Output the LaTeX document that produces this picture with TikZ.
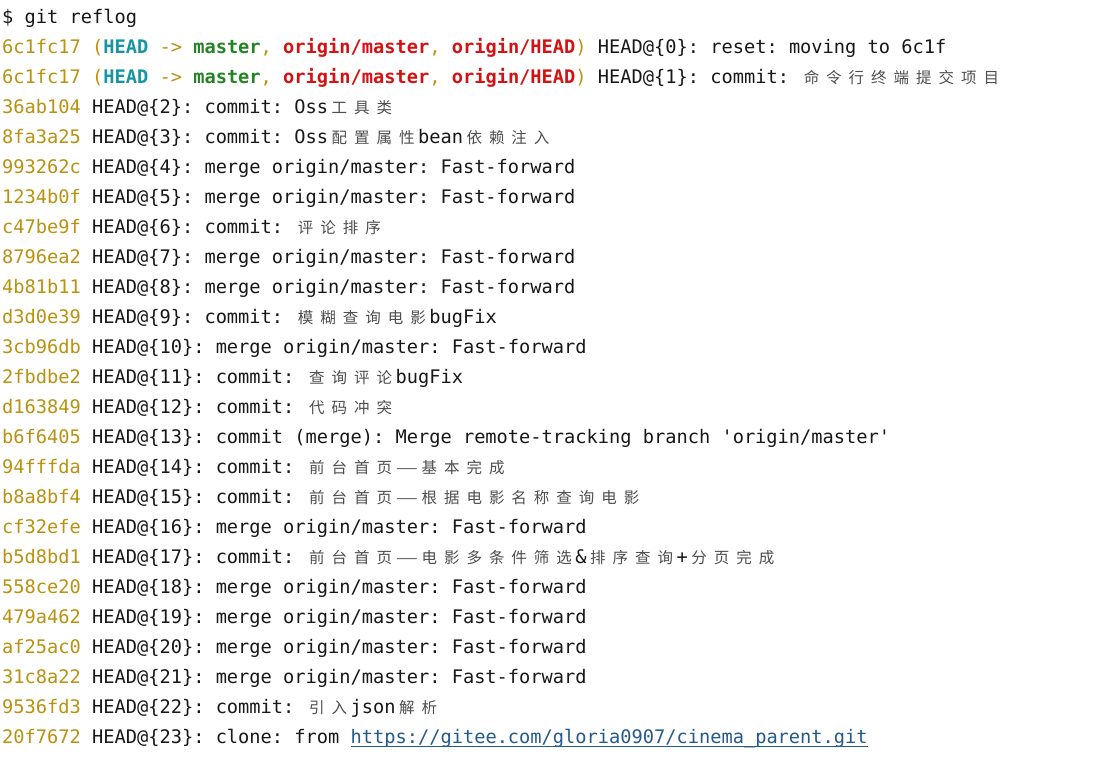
\documentclass[tikz,border=0pt]{standalone}
\usepackage{fontspec}
\usepackage{graphicx}
\setmonofont{DejaVu Sans Mono}
\newfontfamily\cjk{Noto Sans CJK SC}
\frenchspacing
\definecolor{hashc}{RGB}{186,146,18}
\definecolor{headc}{RGB}{22,150,162}
\definecolor{masterc}{RGB}{36,132,36}
\definecolor{originc}{RGB}{212,18,18}
\definecolor{textc}{RGB}{24,24,24}
\definecolor{cjkc}{RGB}{78,78,78}
\definecolor{linkc}{RGB}{36,90,140}
\newcommand\logfont{\ttfamily\fontsize{18.67}{30}\selectfont}
\newlength\cw
\setlength\cw{22.48pt}
\newcommand\cj[1]{{\cjk\fontsize{15.5}{15.5}\selectfont\color{cjkc}\cjloop#1\relax}}
\def\cjloop#1{\ifx\relax#1\else\makebox[\cw][c]{#1}\expandafter\cjloop\fi}
\newcommand\cjdash{\makebox[\cw][c]{\cjk\fontsize{15.5}{15.5}\selectfont\color{cjkc}\scalebox{1.6}[1]{—}}}
\newcommand\hash[1]{\textcolor{hashc}{#1}}
\newcommand\refs{\hash{(}\textbf{\textcolor{headc}{HEAD}} \hash{->} \textbf{\textcolor{masterc}{master}}\hash{,} \textbf{\textcolor{originc}{origin/master}}\hash{,} \textbf{\textcolor{originc}{origin/HEAD}}\hash{)}}
\newcommand\weblink[1]{{\color{linkc}\setbox0\hbox{#1}\rlap{\rule[-3.6pt]{\wd0}{1.3pt}}\box0}}
\tikzset{logline/.style={anchor=base west, inner sep=0pt, font=\logfont, text=textc}}
\begin{document}
\begin{tikzpicture}[x=1pt,y=-1pt]
\useasboundingbox[fill=white] (0,0) rectangle (1116,768);
% コマンド
\node[logline] (cmd) at (2,23.5) {\$ git reflog};
% reflog の各行
\node[logline] (r0) at (2,53.5) {\hash{6c1fc17} \refs{} HEAD@\{0\}: reset: moving to 6c1f};
\node[logline] (r1) at (2,83.5) {\hash{6c1fc17} \refs{} HEAD@\{1\}: commit: \cj{命令行终端提交项目}};
\node[logline] (r2) at (2,113.5) {\hash{36ab104} HEAD@\{2\}: commit: Oss\cj{工具类}};
\node[logline] (r3) at (2,143.5) {\hash{8fa3a25} HEAD@\{3\}: commit: Oss\cj{配置属性}bean\cj{依赖注入}};
\node[logline] (r4) at (2,173.5) {\hash{993262c} HEAD@\{4\}: merge origin/master: Fast-forward};
\node[logline] (r5) at (2,203.5) {\hash{1234b0f} HEAD@\{5\}: merge origin/master: Fast-forward};
\node[logline] (r6) at (2,233.5) {\hash{c47be9f} HEAD@\{6\}: commit: \cj{评论排序}};
\node[logline] (r7) at (2,263.5) {\hash{8796ea2} HEAD@\{7\}: merge origin/master: Fast-forward};
\node[logline] (r8) at (2,293.5) {\hash{4b81b11} HEAD@\{8\}: merge origin/master: Fast-forward};
\node[logline] (r9) at (2,323.5) {\hash{d3d0e39} HEAD@\{9\}: commit: \cj{模糊查询电影}bugFix};
\node[logline] (r10) at (2,353.5) {\hash{3cb96db} HEAD@\{10\}: merge origin/master: Fast-forward};
\node[logline] (r11) at (2,383.5) {\hash{2fbdbe2} HEAD@\{11\}: commit: \cj{查询评论}bugFix};
\node[logline] (r12) at (2,413.5) {\hash{d163849} HEAD@\{12\}: commit: \cj{代码冲突}};
\node[logline] (r13) at (2,443.5) {\hash{b6f6405} HEAD@\{13\}: commit (merge): Merge remote-tracking branch 'origin/master'};
\node[logline] (r14) at (2,473.5) {\hash{94fffda} HEAD@\{14\}: commit: \cj{前台首页}\cjdash\cj{基本完成}};
\node[logline] (r15) at (2,503.5) {\hash{b8a8bf4} HEAD@\{15\}: commit: \cj{前台首页}\cjdash\cj{根据电影名称查询电影}};
\node[logline] (r16) at (2,533.5) {\hash{cf32efe} HEAD@\{16\}: merge origin/master: Fast-forward};
\node[logline] (r17) at (2,563.5) {\hash{b5d8bd1} HEAD@\{17\}: commit: \cj{前台首页}\cjdash\cj{电影多条件筛选}\&\cj{排序查询}+\cj{分页完成}};
\node[logline] (r18) at (2,593.5) {\hash{558ce20} HEAD@\{18\}: merge origin/master: Fast-forward};
\node[logline] (r19) at (2,623.5) {\hash{479a462} HEAD@\{19\}: merge origin/master: Fast-forward};
\node[logline] (r20) at (2,653.5) {\hash{af25ac0} HEAD@\{20\}: merge origin/master: Fast-forward};
\node[logline] (r21) at (2,683.5) {\hash{31c8a22} HEAD@\{21\}: merge origin/master: Fast-forward};
\node[logline] (r22) at (2,713.5) {\hash{9536fd3} HEAD@\{22\}: commit: \cj{引入}json\cj{解析}};
\node[logline] (r23) at (2,743.5) {\hash{20f7672} HEAD@\{23\}: clone: from \weblink{https://gitee.com/gloria0907/cinema\_parent.git}};
\end{tikzpicture}
\end{document}
